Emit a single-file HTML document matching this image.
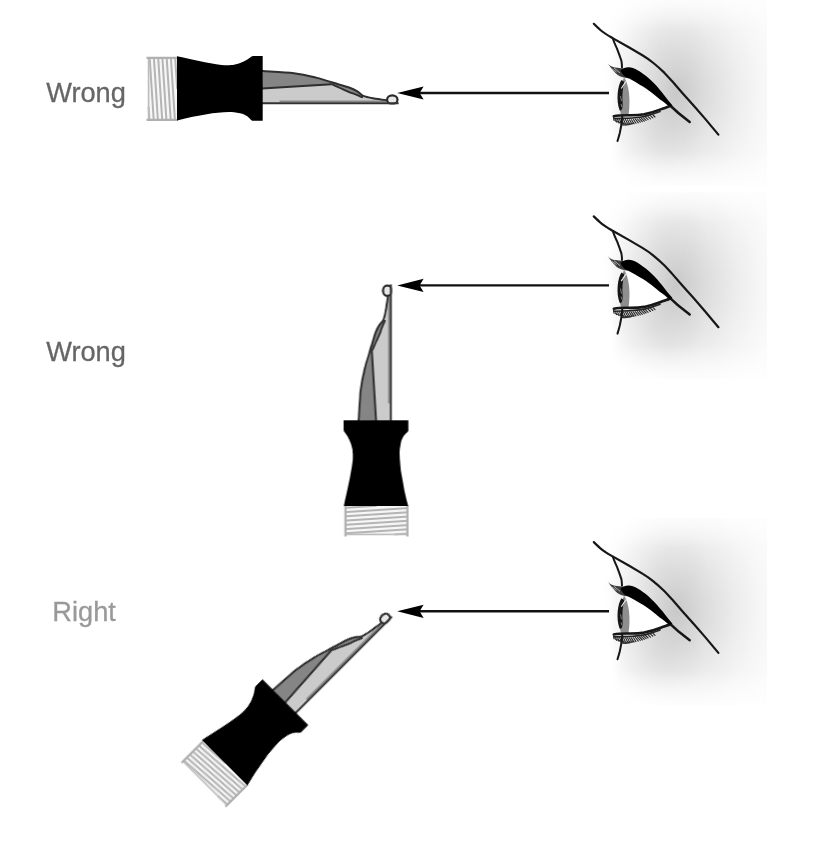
<!DOCTYPE html>
<html>
<head>
<meta charset="utf-8">
<title>Nib angle</title>
<style>
html,body{margin:0;padding:0;background:#fff;}
body{width:815px;height:848px;overflow:hidden;}
svg{display:block;}
text{font-family:"Liberation Sans",Arial,Helvetica,sans-serif;font-size:28.5px;}
</style>
</head>
<body>
<svg width="815" height="848" viewBox="0 0 815 848">
<defs>
  <radialGradient id="shade" gradientUnits="userSpaceOnUse" cx="10" cy="0" r="95" fx="0" fy="0" gradientTransform="translate(676 92) scale(1 1.33)">
    <stop offset="0" stop-color="#000" stop-opacity="0.21"/>
    <stop offset="0.2" stop-color="#000" stop-opacity="0.152"/>
    <stop offset="0.4" stop-color="#000" stop-opacity="0.10"/>
    <stop offset="0.6" stop-color="#000" stop-opacity="0.055"/>
    <stop offset="0.8" stop-color="#000" stop-opacity="0.02"/>
    <stop offset="1" stop-color="#000" stop-opacity="0"/>
  </radialGradient>
  <linearGradient id="rfade" gradientUnits="userSpaceOnUse" x1="640" y1="0" x2="767" y2="0">
    <stop offset="0" stop-color="#000" stop-opacity="0"/>
    <stop offset="1" stop-color="#000" stop-opacity="0.018"/>
  </linearGradient>
  <linearGradient id="vfade" gradientUnits="userSpaceOnUse" x1="0" y1="0" x2="0" y2="186">
    <stop offset="0" stop-color="#fff" stop-opacity="0.65"/>
    <stop offset="0.16" stop-color="#fff" stop-opacity="0"/>
    <stop offset="0.82" stop-color="#fff" stop-opacity="0"/>
    <stop offset="1" stop-color="#fff" stop-opacity="0.75"/>
  </linearGradient>
  <radialGradient id="shade2" gradientUnits="userSpaceOnUse" cx="660" cy="46" r="50">
    <stop offset="0" stop-color="#000" stop-opacity="0.025"/>
    <stop offset="0.5" stop-color="#000" stop-opacity="0.014"/>
    <stop offset="1" stop-color="#000" stop-opacity="0"/>
  </radialGradient>
  <radialGradient id="shade3" gradientUnits="userSpaceOnUse" cx="654" cy="136" r="50">
    <stop offset="0" stop-color="#000" stop-opacity="0.045"/>
    <stop offset="0.5" stop-color="#000" stop-opacity="0.026"/>
    <stop offset="1" stop-color="#000" stop-opacity="0"/>
  </radialGradient>
  <filter id="soft" x="-5%" y="-5%" width="110%" height="110%"><feGaussianBlur stdDeviation="0.45"/></filter>
  <filter id="blur3" x="-20%" y="-20%" width="140%" height="140%"><feGaussianBlur stdDeviation="3.5"/></filter>
  <clipPath id="boxclip"><rect x="593" y="0" width="174" height="186"/></clipPath>
  <filter id="soft2" x="-5%" y="-5%" width="110%" height="110%"><feGaussianBlur stdDeviation="0.7"/></filter>

  <!-- pen drawn horizontally, nib pointing right -->
  <g id="pen">
    <!-- threaded end -->
    <rect x="147.500" y="57" width="30" height="63.500" fill="#f6f6f6"/>
    <path d="M148.6 106.8L149.4 120M149.7 58L153.7 120M153.9 58L157.9 120M158.2 58L162.2 120M162.4 58L166.4 120M166.7 58L170.7 120M170.9 58L174.9 120M175.2 58L177.2 89.0" stroke="#b4b4b4" stroke-width="2" fill="none"/>
    <path d="M148.600 57V120.500" stroke="#bdbdbd" stroke-width="1.600" fill="none"/>
    <path d="M146.500 57.800H178M146.500 119.900H178" stroke="#b0b0b0" stroke-width="2.200" fill="none"/>
    <!-- nib -->
    <path d="M262.6 71.0C267.8 71.4 285.1 72.1 294.0 73.2C302.9 74.300 308.7 75.8 316.0 77.6C323.300 79.4 332.2 82.4 338.0 84.2C343.8 86.0 347.7 87.0 351.0 88.2C354.300 89.4 355.7 90.300 357.7 91.6C359.7 92.9 360.6 94.7 363.2 95.8C365.8 96.9 369.1 97.5 373.0 98.2C376.9 98.9 384.2 99.9 386.4 100.2 L388 103.500H262Z" fill="#cbcbcb"/>
    <path d="M262.6 71.0C267.8 71.4 285.1 72.1 294.0 73.2C302.9 74.300 308.7 75.8 316.0 77.6C323.300 79.4 332.2 82.4 338.0 84.2C343.8 86.0 347.7 87.0 351.0 88.2C354.300 89.4 355.7 90.300 357.7 91.6C359.7 92.9 360.6 94.7 363.2 95.8L362.2 97.2C361.2 96.8 358.4 95.5 356.0 94.6C353.6 93.7 350.7 92.7 348.0 91.6C345.3 90.5 342.7 89.2 340.0 88.0C337.3 86.8 333.1 84.9 331.7 84.3L262 88.500Z" fill="#858585"/>
    <g fill="none" stroke="#2e2e2e" stroke-width="2" stroke-linejoin="round" stroke-linecap="round">
      <path d="M262.6 71.0C267.8 71.4 285.1 72.1 294.0 73.2C302.9 74.300 308.7 75.8 316.0 77.6C323.300 79.4 332.2 82.4 338.0 84.2C343.8 86.0 347.7 87.0 351.0 88.2C354.300 89.4 355.7 90.300 357.7 91.6C359.7 92.9 360.6 94.7 363.2 95.8C365.8 96.9 369.1 97.5 373.0 98.2C376.9 98.9 384.2 99.9 386.4 100.2"/>
      <path d="M262 88.500L331.700 84.200C333.1 84.9 337.3 86.8 340.0 88.0C342.7 89.2 345.3 90.5 348.0 91.6C350.7 92.7 353.6 93.7 356.0 94.6C358.4 95.5 361.2 96.8 362.2 97.2" stroke-width="1.900"/>
      <path d="M280 101.200H386" stroke-width="1" stroke="#666"/>
    </g>
    <clipPath id="ballclip"><rect x="380" y="90" width="24" height="14.400"/></clipPath>
    <ellipse cx="392.300" cy="99.700" rx="5.200" ry="4.400" fill="#e8e8e8" stroke="#2a2a2a" stroke-width="2.200" clip-path="url(#ballclip)"/>
    <path d="M262 103.300H398.600" stroke="#333" stroke-width="2.100" fill="none"/>
    <!-- grip -->
    <path d="M177 56.300C190 59 208 63.500 221.500 64.900C226 65.300 231 65.200 234 64.700C241 63.500 246 60.500 249.500 58C251 56.800 252 56 253.200 56H262.700V120.800H253C252 120.800 251 120 249.500 118.200C246 115 243 113.800 240 113.300C236 112.500 232 112 229 112C222 112 214 113 206.800 114.200C198 115.800 188 117.500 177 120.500Z" fill="#000"/>
  </g>

  <!-- eye profile -->
  <g id="eye">
    <rect x="593" y="0" width="174" height="186" fill="url(#rfade)"/>
    <rect x="593" y="0" width="174" height="186" fill="url(#shade)"/>
    <rect x="593" y="0" width="174" height="186" fill="url(#shade2)"/>
    <rect x="593" y="0" width="174" height="186" fill="url(#shade3)"/>
    <rect x="593" y="0" width="174" height="186" fill="url(#vfade)"/>
    <g clip-path="url(#boxclip)"><path d="M585 -10L585 196L612 196L616 141L611 117L613 95L606 64L616 60L608 40L590 22L590 -10Z" fill="#fff" filter="url(#blur3)"/></g>
    <g filter="url(#soft)">
    <!-- white of eye -->
    <path d="M626 77C640 84 655 95 669 105C655 111 640 115 626 115.500Z" fill="#fff"/>
    <!-- iris -->
    <path d="M624 77.500C629 84 630.800 100 628.500 115L621 115.500C618.500 104 619 88 624 77.500Z" fill="#8e8e8e"/>
    <path d="M621.500 80C617.500 86 616 100 619.500 110C621.500 112 623 108 622.600 103C622 96 622.500 88 624.500 82Z" fill="#161616"/>
    <path d="M621.300 88.500L625.800 81.500" stroke="#f4f4f4" stroke-width="1.100" fill="none"/>
    <path d="M620.500 96l1 5M621 104l1 3" stroke="#999" stroke-width="0.800" fill="none"/>
    <g fill="none" stroke="#161616" stroke-linecap="round" stroke-linejoin="round">
      <!-- brow / face line -->
      <path d="M593.800 23.800C596.500 26.500 599 29 601.600 31C605 33.800 609 36 612.600 38.100L629.200 47.500L642.400 55.300C646.500 57.800 650 60.200 653.400 63C657.500 66.300 661 69.500 664.500 72.900C667.500 76 670 78.800 672 81L683 93.700L694 105.900L705 118.600L718.400 134.600" stroke-width="2.200"/>
      <path d="M612.800 38.500C614 42 615.500 45.500 617 48.600C618.500 52.500 620 56.500 621.400 60.800C621.800 63 622 65 622 67.400" stroke-width="2"/>
      <!-- lower lid -->
      <path d="M613.800 116.200C618 115.300 623 115.200 627.600 115.200C633 115.300 639 115.200 644.200 114.300C650 113.100 655.500 111.400 660.700 109.400C664 108.200 667 107.200 670.500 105.900" stroke-width="2.600"/>
      <path d="M614 118.600C622 118.200 632 118.500 640 117.300C647 116.200 653 114.200 660 111.600" stroke-width="1.600" stroke="#222"/>
      <path d="M613.500 117.500l.5 3M615.500 118.500l1 3.500M617.500 119l1.500 4M619.500 119l2 5M621.500 119.500l2.500 5.500M623.500 119.500l2.500 5.500M625.500 119.500l2.500 5M627.500 119.800l2.500 4.700M629.500 119.800l2.500 4.200M631.500 119.800l2.500 4M633.500 119.500l2.500 3.800M635.500 119.200l2.800 3.600M637.500 119l2.800 3.200M639.500 118.700l2.800 3M641.500 118.300l2.800 2.800M643.500 117.800l2.600 2.600M645.500 117.200l2.600 2.500M648 116.600l2.500 2.300M650.500 115.800l2.300 2.100M653 115l2 2" stroke-width="1.100" stroke="#262626"/>
      <path d="M618 122c4 2 10 2.500 16 1M621 124.500c4 1 8 .5 11.500-1M615 120.500c2 1.500 5 2 8 2" stroke-width="1.100" stroke="#333"/>
      <!-- line under eye -->
      <path d="M622.300 116.500C622 122 621 128 619.800 133C619 136 618.300 138.500 617.500 141" stroke-width="2"/>
      <!-- crease continuing -->
      <path d="M668 103.500C673 108.500 681 115.500 689.700 121.900" stroke-width="2.500"/>
    </g>
    <!-- upper lashes wedge -->
    <path d="M608 63.800C610 66 612.500 67 615 67.500C618 68 621 68 623.500 68.500L627 78C624 77.800 621.500 77 619.500 76C616 74 612.500 70.500 608 63.800Z" fill="#3c3c3c"/>
    <path d="M611.500 68.500l5 3.500M614 68l6 5" stroke="#b8b8b8" stroke-width="0.900" fill="none"/>
    <!-- upper lid thick -->
    <path d="M620.500 70.500C622 68.500 625.500 67 629.200 67.200C633 67.500 637 69.500 640.200 71.800C644.500 74.800 648 77.500 651.200 80.600C655.500 84.500 659 88.800 662.300 92.800C665.500 97 669 101.500 672.500 105.500L669.500 106.500C666 103.800 663 101.500 660 99.400C657 97 654 94.500 651.200 92.200C647.500 89.500 644 87 640.200 85C636.500 82.800 633 80.500 629.200 78.600C626 77.500 623 76 620.500 70.500Z" fill="#050505"/>
    </g>
  </g>

  <g id="arrow">
    <path d="M418 93H609" stroke="#111" stroke-width="2.400" fill="none"/>
    <path d="M397.200 93L423.600 86.400L419.600 93L423.600 99.600Z" fill="#000"/>
  </g>
</defs>

<rect width="815" height="848" fill="#fff"/>

<!-- eyes -->
<use href="#eye"/>
<use href="#eye" transform="translate(0 192.600)"/>
<use href="#eye" transform="translate(0 518.300)"/>

<!-- arrows -->
<use href="#arrow"/>
<use href="#arrow" transform="translate(0 192.400)"/>
<use href="#arrow" transform="translate(0 518.300)"/>

<!-- pens -->
<g filter="url(#soft)">
<use href="#pen"/>
<use href="#pen" transform="translate(375.600 506) rotate(-90) translate(-177 -88)"/>
<use href="#pen" transform="translate(224.500 762.500) rotate(-45) translate(-177 -88)"/>
</g>

<!-- labels -->
<text transform="translate(46.200 101.600) scale(0.955 1)" fill="#666" stroke="#666" stroke-width="0.300" filter="url(#soft)">Wrong</text>
<text transform="translate(46.200 360.800) scale(0.955 1)" fill="#666" stroke="#666" stroke-width="0.300" filter="url(#soft)">Wrong</text>
<text transform="translate(52.300 621) scale(0.955 1)" fill="#999" stroke="#999" stroke-width="0.300" filter="url(#soft2)">Right</text>
</svg>
</body>
</html>
